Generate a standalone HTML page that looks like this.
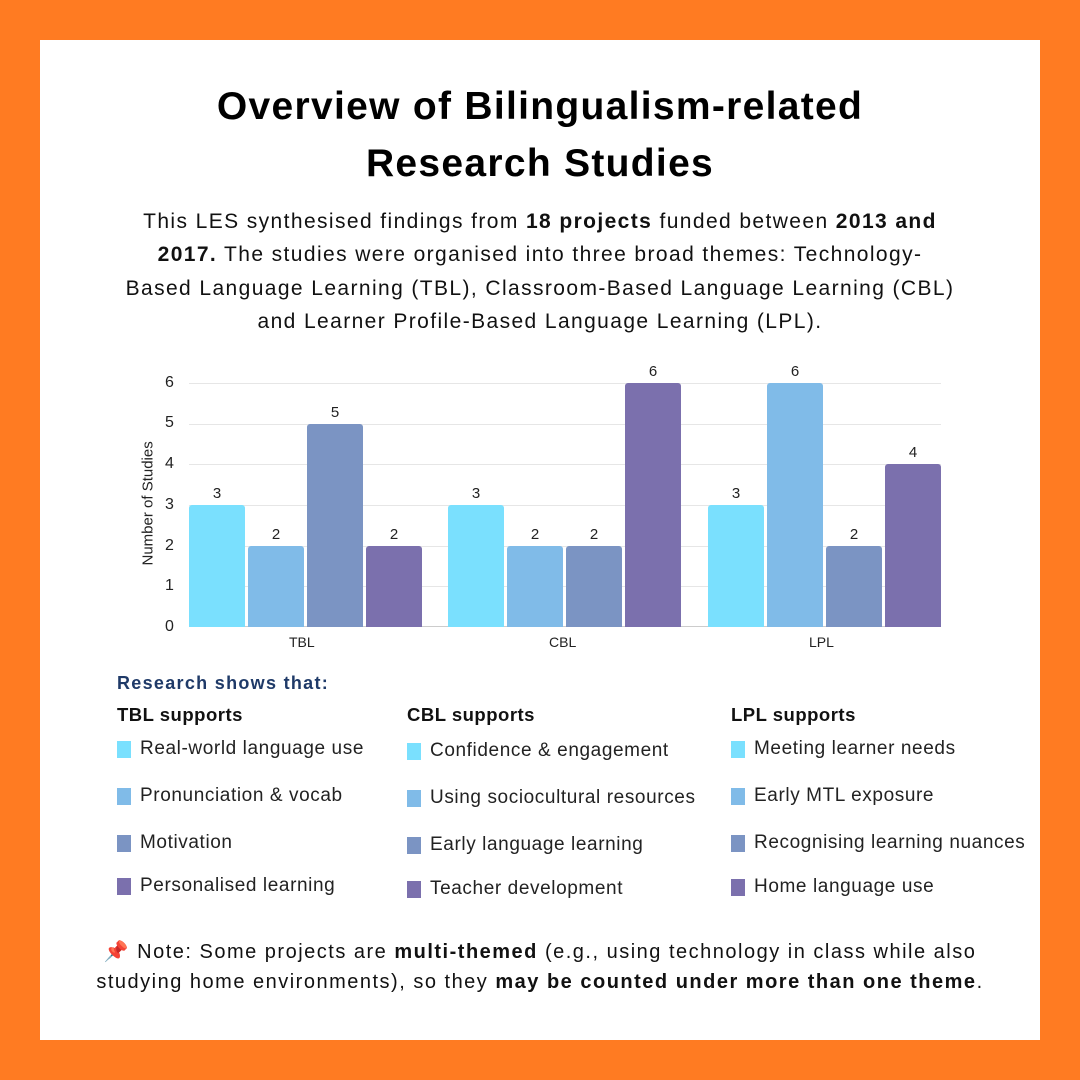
<!DOCTYPE html><html><head><style>
body{margin:0;width:1080px;height:1080px;background:#ff7b22;position:relative;font-family:"Liberation Sans","DejaVu Sans",sans-serif;overflow:hidden}
#card{position:absolute;left:40px;top:40px;width:1000px;height:1000px;background:#fff}
.a{position:absolute;white-space:nowrap}
.t{font-weight:bold;font-size:39px;letter-spacing:1.3px;text-align:center;width:1080px;left:0}
.p{font-size:21px;letter-spacing:1.4px;text-align:center;width:1080px;left:0;color:#111}
.g{position:absolute;left:189px;width:752px;height:1px;background:#e6e6e6}
.bar{position:absolute;width:56px;border-radius:3px 3px 0 0}
.v{position:absolute;width:56px;text-align:center;font-size:15px;color:#222}
.yl{position:absolute;left:165px;font-size:16px;color:#222}
.h{font-weight:bold;font-size:18.5px;letter-spacing:0.5px;color:#111}
.it{font-size:19px;letter-spacing:0.6px;color:#222}
.sq{position:absolute;width:14px;height:17px}
</style></head><body><div id="card"></div>
<div class="a t" style="top:85px">Overview of Bilingualism-related</div>
<div class="a t" style="top:142px">Research Studies</div>
<div class="a p" style="top:210px">This LES synthesised findings from <b>18 projects</b> funded between <b>2013 and</b></div>
<div class="a p" style="top:243px"><b>2017.</b> The studies were organised into three broad themes: Technology-</div>
<div class="a p" style="top:277px">Based Language Learning (TBL), Classroom-Based Language Learning (CBL)</div>
<div class="a p" style="top:310px">and Learner Profile-Based Language Learning (LPL).</div>
<div class="g" style="top:383px"></div><div class="g" style="top:424px"></div><div class="g" style="top:464px"></div><div class="g" style="top:505px"></div><div class="g" style="top:546px"></div><div class="g" style="top:586px"></div><div class="g" style="top:626px;background:#ccc"></div>
<div class="yl" style="top:374px">6</div><div class="yl" style="top:414px">5</div><div class="yl" style="top:455px">4</div><div class="yl" style="top:496px">3</div><div class="yl" style="top:537px">2</div><div class="yl" style="top:577px">1</div><div class="yl" style="top:618px">0</div>
<div class="a" style="left:88px;top:497px;font-size:15px;transform:rotate(-90deg);transform-origin:center;width:120px;text-align:center;color:#222">Number of Studies</div>
<div id="bars"></div>
<div class="a" style="left:289px;top:634px;font-size:14px;color:#222">TBL</div>
<div class="a" style="left:549px;top:634px;font-size:14px;color:#222">CBL</div>
<div class="a" style="left:809px;top:634px;font-size:14px;color:#222">LPL</div>
<script>
var c=["#7ae0fe","#80bbe8","#7b94c3","#7b70ad"],d=[[3,2,5,2],[3,2,2,6],[3,6,2,4]],s=[189,448,708],h="";
for(var g=0;g<3;g++)for(var i=0;i<4;i++){var x=s[g]+i*59,v=d[g][i],y=627-v*40.67;
h+='<div class="bar" style="left:'+x+'px;top:'+y+'px;height:'+(627-y)+'px;background:'+c[i]+'"></div><div class="v" style="left:'+x+'px;top:'+(y-20)+'px">'+v+'</div>';}
document.getElementById("bars").innerHTML=h;
</script>
<div class="a" style="left:117px;top:673px;font-weight:bold;font-size:18px;letter-spacing:1.3px;color:#1f3a68">Research shows that:</div>
<div class="a h" style="left:117px;top:704px">TBL supports</div>
<div class="a h" style="left:407px;top:704px">CBL supports</div>
<div class="a h" style="left:731px;top:704px">LPL supports</div>
<div id="leg"></div>
<script>
var cols=[[117,[740,787,834,877],["Real-world language use","Pronunciation & vocab","Motivation","Personalised learning"]],[407,[742,789,836,880],["Confidence & engagement","Using sociocultural resources","Early language learning","Teacher development"]],[731,[740,787,834,878],["Meeting learner needs","Early MTL exposure","Recognising learning nuances","Home language use"]]],h2="";
cols.forEach(function(k){for(var i=0;i<4;i++){h2+='<div class="sq" style="left:'+k[0]+'px;top:'+(k[1][i]+1)+'px;background:'+c[i]+'"></div><div class="a it" style="left:'+(k[0]+23)+'px;top:'+(k[1][i]-2)+'px">'+k[2][i].replace("&","&amp;")+'</div>';}});
document.getElementById("leg").innerHTML=h2;
</script>
<div class="a p" style="top:939px;font-size:20px;letter-spacing:1.5px">📌 Note: Some projects are <b>multi-themed</b> (e.g., using technology in class while also</div>
<div class="a p" style="top:971px;font-size:20px;letter-spacing:1.5px">studying home environments), so they <b>may be counted under more than one theme</b>.</div>
</body></html>
